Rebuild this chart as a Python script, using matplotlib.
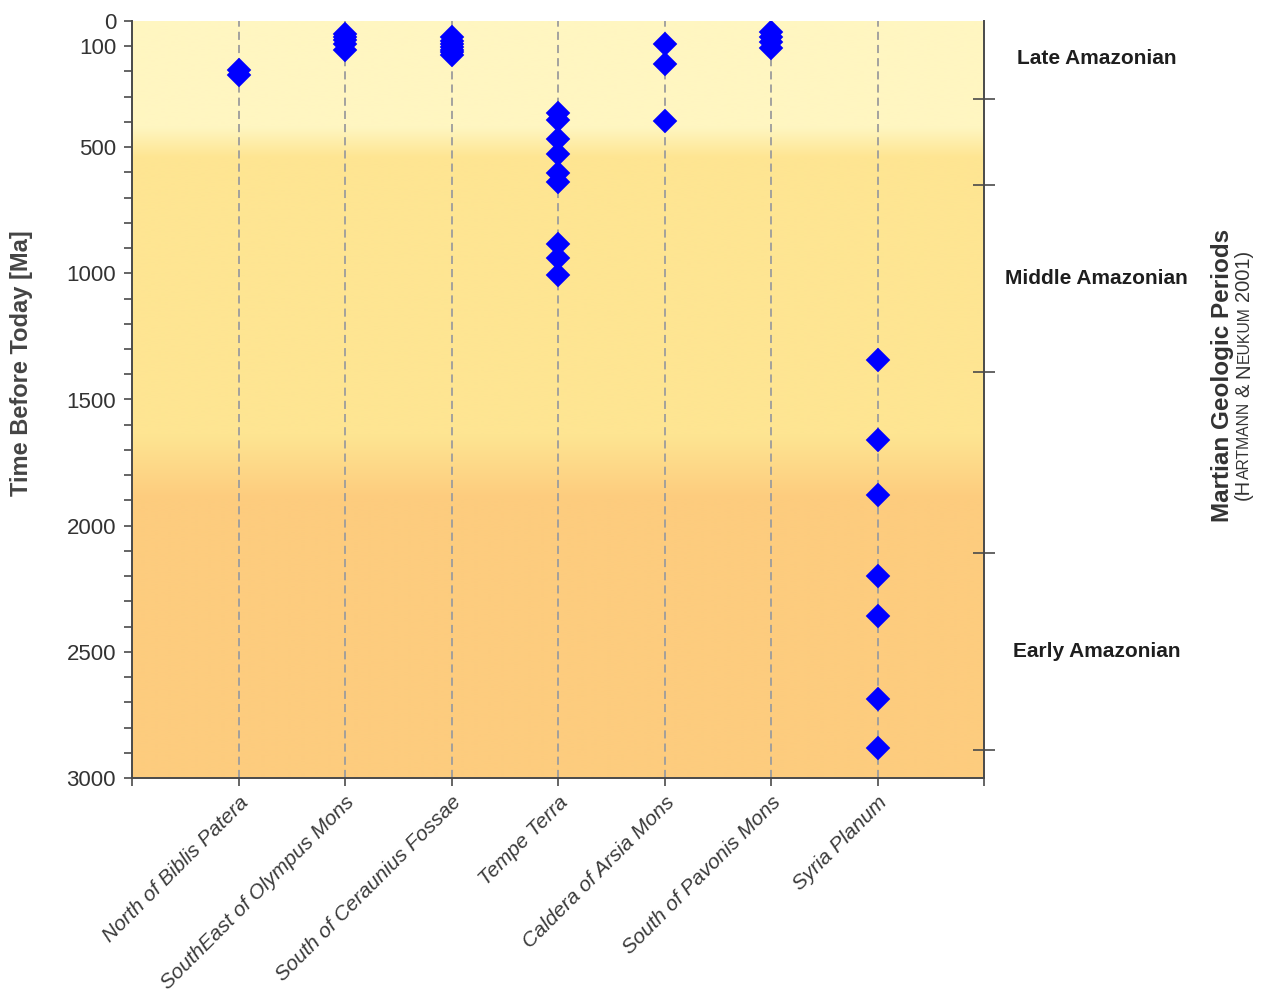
import numpy as np
import matplotlib
matplotlib.use("Agg")
import matplotlib.pyplot as plt

plt.rcParams["font.family"] = ["Liberation Sans", "DejaVu Sans"]

# ---- data -------------------------------------------------------------
sites = [
    "North of Biblis Patera",
    "SouthEast of Olympus Mons",
    "South of Ceraunius Fossae",
    "Tempe Terra",
    "Caldera of Arsia Mons",
    "South of Pavonis Mons",
    "Syria Planum",
]
ages_biblis = [195, 215]
ages_olympus = [50, 62, 75, 90, 113]
ages_ceraunius = [65, 78, 90, 102, 113, 123, 134]
ages_tempe = [363, 393, 466, 529, 601, 638, 884, 939, 1005]
ages_arsia = [90, 170, 396]
ages_pavonis = [45, 65, 85, 106]
ages_syria = [1342, 1659, 1879, 2198, 2357, 2687, 2882]
site_ages = [ages_biblis, ages_olympus, ages_ceraunius, ages_tempe,
             ages_arsia, ages_pavonis, ages_syria]

y_tick_values = [0, 100, 500, 1000, 1500, 2000, 2500, 3000]
y_max = 3000
period_boundaries = [310, 650, 1390, 2110, 2890]
periods = ["Late Amazonian", "Middle Amazonian", "Early Amazonian"]
period_label_ages = [148, 1022, 2500]

# ---- figure -------------------------------------------------------------
W, H = 1261, 993
fig = plt.figure(figsize=(W / 100, H / 100), dpi=100)
ax = fig.add_axes([132 / W, 1 - 778 / H, (984 - 132) / W, (778 - 21) / H])

n_sites = len(sites)
x_right = n_sites + 1

# background bands with soft transitions between the periods
c_late = np.array([255, 246, 193]) / 255
c_mid = np.array([254, 229, 146]) / 255
c_early = np.array([253, 204, 126]) / 255
ma = np.linspace(0, y_max, 1500)
stops = [0, 420, 540, 1640, 1890, y_max]
cols = np.array([c_late, c_late, c_mid, c_mid, c_early, c_early])
grad = np.stack([np.interp(ma, stops, cols[:, k]) for k in range(3)], axis=-1)
ax.imshow(grad[:, None, :], extent=[0, x_right, y_max, 0], aspect="auto",
          origin="upper", interpolation="bilinear", zorder=0)

# dashed guide line per site and the dated samples
for i, vals in enumerate(site_ages):
    xpos = i + 1
    ax.axvline(xpos, color="#9c9c9c", lw=1.3, linestyle=(0, (4.5, 2.8)), zorder=1)
    ax.plot(np.full(len(vals), xpos), vals, linestyle="none", marker="D",
            ms=12, color="#0000ff", mec="#0000ff", mew=0.3, zorder=3)

ax.set_xlim(0, x_right)
ax.set_ylim(y_max, 0)

# axes styling
axis_col = "#4a4a4a"
for side in ("left", "bottom", "right"):
    ax.spines[side].set_color(axis_col)
    ax.spines[side].set_linewidth(1.4)
ax.spines["top"].set_visible(False)

ax.set_yticks(y_tick_values)
ax.set_yticklabels([str(v) for v in y_tick_values])
ax.set_yticks(np.arange(0, y_max + 1, 100), minor=True)
ax.tick_params(axis="y", which="both", direction="out", length=5.5, width=1.2,
               color=axis_col, right=False)
ax.tick_params(axis="y", which="major", labelsize=16, labelcolor="#333333", pad=6)

ax.set_xticks(range(0, x_right + 1))
ax.set_xticklabels([""] + sites + [""], rotation=45, ha="right", va="top",
                   rotation_mode="anchor", fontstyle="italic", fontsize=15,
                   color="#3a3a3a")
ax.tick_params(axis="x", direction="out", length=5.5, width=1.2, color=axis_col, pad=5)

ax.set_ylabel("Time Before Today [Ma]", fontsize=17, fontweight="bold", color="#444444")
ax.yaxis.set_label_coords(-0.116, 0.548)

# period boundary ticks on the right spine
ax2 = ax.twinx()
ax2.set_ylim(y_max, 0)
ax2.set_yticks(period_boundaries)
ax2.tick_params(axis="y", direction="inout", length=16, width=1.2, color=axis_col,
                labelright=False)
for s in ax2.spines.values():
    s.set_visible(False)

trans = ax.get_yaxis_transform()
for name, age in zip(periods, period_label_ages):
    ax.text(1.132, age, name, transform=trans, ha="center", va="center",
            fontsize=15, fontweight="bold", color="#1e1e1e", clip_on=False)

fig.text(1222 / W, 1 - 375 / H, "Martian Geologic Periods", rotation=90,
         ha="center", va="center", fontsize=17.5, fontweight="bold", color="#333333")

# citation line in small capitals, built from pieces along the vertical
big, small = 14.5, 11.3
parts = [("(H", big), ("ARTMANN", small), (None, big), ("&", big), (None, big),
         ("N", big), ("EUKUM", small), (None, big), ("2001)", big)]
renderer = fig.canvas.get_renderer()
space_px = 0.278 * big * 100 / 72
pieces = []
for s, size in parts:
    if s is None:
        pieces.append((None, space_px))
        continue
    t = fig.text(0, 0, s, rotation=90, rotation_mode="anchor", ha="left",
                 va="baseline", fontsize=size, color="#333333")
    pieces.append((t, t.get_window_extent(renderer).height))
total = sum(L for _, L in pieces)
y_cur = (H - 375) - total / 2
x_base = (1243 + 6) / W
for t, L in pieces:
    if t is not None:
        t.set_position((x_base, y_cur / H))
    y_cur += L

fig.savefig("out.png", dpi=100)
